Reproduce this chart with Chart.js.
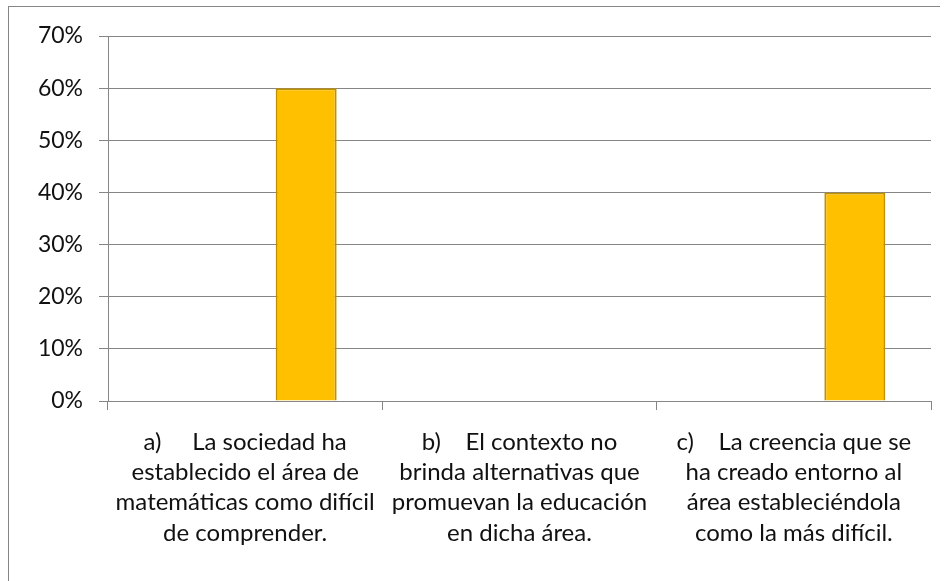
<!DOCTYPE html>
<html>
<head>
<meta charset="utf-8">
<script src="https://cdn.jsdelivr.net/npm/chart.js@4"></script>
<style>
    html, body { margin: 0; padding: 0; background: #fff; }
    #wrap { position: relative; width: 949px; height: 581px; }
    #frame {
        position: absolute; left: 8px; top: 6px; width: 931px; height: 600px;
        border-left: 1px solid #868686; border-top: 1px solid #868686;
    }
    #chart { position: absolute; left: 0; top: 0; }
</style>
</head>
<body>
<div id="wrap">
    <div id="frame"></div>
    <canvas id="chart" width="949" height="581"></canvas>
</div>
<script>
// Categorías (texto en varias líneas, como en el original)
const categories = [
    ['a)     La sociedad ha', 'establecido el área de', 'matemáticas como difícil', 'de comprender.'],
    ['b)    El contexto no', 'brinda alternativas que', 'promuevan la educación', 'en dicha área.'],
    ['c)    La creencia que se', 'ha creado entorno al', 'área estableciéndola', 'como la más difícil.']
];

// Series (solo la tercera tiene valores, por eso la barra queda a la derecha)
const serie1 = [null, null, null];
const serie2 = [null, null, null];
const serie3 = [60, 0, 40];

const yTicks = [0, 10, 20, 30, 40, 50, 60, 70];

const gridColor = '#868686';
const fontFamily = 'Lato, "Open Sans", sans-serif';

const ctx = document.getElementById('chart').getContext('2d');
new Chart(ctx, {
    type: 'bar',
    data: {
        labels: categories,
        datasets: [
            { label: 'Serie 1', data: serie1 },
            { label: 'Serie 2', data: serie2 },
            {
                label: 'Serie 3',
                data: serie3,
                backgroundColor: '#FFC000',
                borderColor: '#BF9000',
                borderWidth: 2,
                borderSkipped: 'bottom'
            }
        ]
    },
    options: {
        responsive: false,
        animation: false,
        categoryPercentage: 0.667,
        barPercentage: 1,
        layout: { padding: { top: 36, right: 18, left: 0, bottom: 0 } },
        plugins: {
            legend: { display: false },
            tooltip: { enabled: false }
        },
        scales: {
            x: {
                grid: {
                    offset: true,
                    drawOnChartArea: false,
                    tickLength: 9,
                    color: gridColor
                },
                border: { color: gridColor, width: 1 },
                ticks: {
                    color: '#111',
                    font: { family: fontFamily, size: 24, lineHeight: 1.26 },
                    padding: 17,
                    maxRotation: 0,
                    autoSkip: false
                },
                afterFit: function(scale) { scale.height = 180; }
            },
            y: {
                min: 0,
                max: 70,
                afterBuildTicks: function(scale) {
                    scale.ticks = yTicks.map(v => ({ value: v }));
                },
                grid: { color: gridColor, tickLength: 9 },
                border: { color: gridColor, width: 1 },
                ticks: {
                    color: '#111',
                    font: { family: fontFamily, size: 23 },
                    padding: 16,
                    callback: v => v + '%'
                },
                afterFit: function(scale) { scale.width = 108; }
            }
        }
    }
});
</script>
</body>
</html>
